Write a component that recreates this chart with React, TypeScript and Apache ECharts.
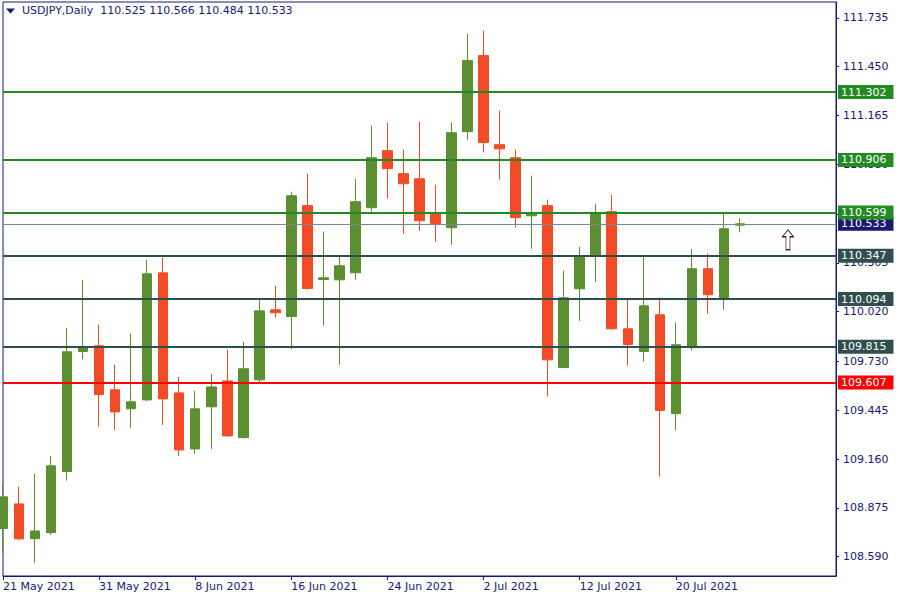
import React, { useEffect, useRef } from "react";
import * as echarts from "echarts";

const NAVY = "#191970";
const UP = "#5b8f31";
const DOWN = "#f24c27";
const FONT = "DejaVu Sans";

const dates = [
  "21 May 2021", "24 May 2021", "25 May 2021", "26 May 2021", "27 May 2021", "28 May 2021",
  "31 May 2021", "1 Jun 2021", "2 Jun 2021", "3 Jun 2021", "4 Jun 2021", "7 Jun 2021",
  "8 Jun 2021", "9 Jun 2021", "10 Jun 2021", "11 Jun 2021", "14 Jun 2021", "15 Jun 2021",
  "16 Jun 2021", "17 Jun 2021", "18 Jun 2021", "21 Jun 2021", "22 Jun 2021", "23 Jun 2021",
  "24 Jun 2021", "25 Jun 2021", "28 Jun 2021", "29 Jun 2021", "30 Jun 2021", "1 Jul 2021",
  "2 Jul 2021", "5 Jul 2021", "6 Jul 2021", "7 Jul 2021", "8 Jul 2021", "9 Jul 2021",
  "12 Jul 2021", "13 Jul 2021", "14 Jul 2021", "15 Jul 2021", "16 Jul 2021", "19 Jul 2021",
  "20 Jul 2021", "21 Jul 2021", "22 Jul 2021", "23 Jul 2021", "26 Jul 2021",
];
// empty slots to the right of the last bar (chart shift)
const futureSlots = ["", "", "", "", "", ""];

const opens = [
  108.754, 108.898, 108.695, 108.730, 109.087, 109.788, 109.821, 109.564, 109.453, 109.505,
  110.247, 109.546, 109.219, 109.465, 109.616, 109.285, 109.622, 110.031, 109.992, 110.639,
  110.208, 110.206, 110.247, 110.627, 110.960, 110.826, 110.796, 110.598, 110.510, 111.071,
  111.515, 110.995, 110.919, 110.580, 110.639, 109.694, 110.154, 110.347, 110.604, 109.920,
  109.788, 110.002, 109.425, 109.817, 110.271, 110.103, 110.525,
];
const closes = [
  108.939, 108.694, 108.740, 109.120, 109.786, 109.813, 109.536, 109.435, 109.494, 110.241,
  109.511, 109.213, 109.453, 109.581, 109.295, 109.687, 110.025, 110.014, 110.697, 110.156,
  110.218, 110.288, 110.662, 110.919, 110.855, 110.767, 110.551, 110.535, 111.065, 111.486,
  111.008, 110.971, 110.569, 110.599, 109.739, 110.101, 110.341, 110.596, 109.920, 109.828,
  110.054, 109.443, 109.827, 110.271, 110.119, 110.504, 110.533,
];
const lows = [
  108.610, 108.688, 108.555, 108.717, 109.034, 109.741, 109.350, 109.330, 109.342, 109.500,
  109.359, 109.178, 109.190, 109.219, 109.290, 109.280, 109.600, 109.986, 109.802, 110.148,
  109.939, 109.710, 110.206, 110.604, 110.680, 110.475, 110.493, 110.428, 110.411, 111.024,
  110.950, 110.791, 110.510, 110.387, 109.525, 109.690, 109.967, 110.195, 109.915, 109.706,
  109.729, 109.057, 109.326, 109.793, 110.008, 110.031, 110.484,
];
const highs = [
  109.009, 108.997, 109.073, 109.178, 109.926, 110.206, 109.944, 109.710, 109.891, 110.323,
  110.335, 109.640, 109.558, 109.657, 109.798, 109.844, 110.101, 110.171, 110.720, 110.826,
  110.487, 110.352, 110.796, 111.106, 111.123, 110.966, 111.129, 110.761, 111.123, 111.643,
  111.661, 111.194, 110.966, 110.814, 110.674, 110.259, 110.399, 110.650, 110.703, 110.090,
  110.342, 110.103, 109.957, 110.387, 110.358, 110.598, 110.566,
];

const priceTicks = [
  108.59, 108.875, 109.16, 109.445, 109.73, 110.02, 110.305, 110.59, 110.88, 111.165, 111.45, 111.735,
];
const dateTickIndexes = [0, 6, 12, 18, 24, 30, 36, 42];

const levelValues = [110.533, 111.302, 110.906, 110.599, 110.347, 110.094, 109.815, 109.607];
const levelColors = ["#778899", "#228b22", "#228b22", "#228b22", "#2f4f4f", "#2f4f4f", "#2f4f4f", "#ff0000"];
const levelLabelBg = [NAVY, "#228b22", "#228b22", "#228b22", "#2f4f4f", "#2f4f4f", "#2f4f4f", "#ff0000"];
const levelWidths = [1, 2, 2, 2, 2, 2, 2, 2];

const headerText = "USDJPY,Daily  110.525 110.566 110.484 110.533";
const arrowPoint = { index: 48.8, price: 110.44 };

export default function App() {
  const ref = useRef<HTMLDivElement>(null);

  useEffect(() => {
    if (!ref.current) return;
    const chart = echarts.init(ref.current, null, { renderer: "svg" });
    const candleData = opens.map((o, i) => [o, closes[i], lows[i], highs[i]]);

    const option = {
      animation: false,
      backgroundColor: "#ffffff",
      textStyle: { fontFamily: FONT },
      title: {
        text: headerText,
        left: 22,
        top: 5,
        padding: 0,
        textStyle: { fontSize: 11, fontWeight: "normal", color: NAVY, fontFamily: FONT },
      },
      graphic: [
        {
          type: "polygon",
          shape: { points: [[6, 8.5], [15, 8.5], [10.5, 13.5]] },
          style: { fill: NAVY },
        },
      ],
      grid: {
        left: 2,
        right: 64,
        top: 2,
        bottom: 24,
        show: true,
        borderColor: NAVY,
        borderWidth: 1,
        backgroundColor: "#ffffff",
      },
      xAxis: {
        type: "category",
        data: [...dates, ...futureSlots],
        boundaryGap: false,
        axisLine: { show: true, lineStyle: { color: NAVY, width: 1 } },
        axisTick: {
          show: true,
          length: 4,
          interval: (i: number) => dateTickIndexes.includes(i),
          lineStyle: { color: NAVY },
        },
        axisLabel: {
          interval: (i: number) => dateTickIndexes.includes(i),
          align: "left",
          color: NAVY,
          fontSize: 11,
          fontFamily: FONT,
          margin: 5,
        },
        splitLine: { show: false },
      },
      yAxis: {
        type: "value",
        position: "right",
        min: 108.477,
        max: 111.828,
        axisLine: { show: true, lineStyle: { color: NAVY, width: 1 } },
        axisTick: {
          show: true,
          length: 3,
          customValues: priceTicks,
          lineStyle: { color: NAVY },
        },
        axisLabel: {
          customValues: priceTicks,
          formatter: (v: number) => v.toFixed(3),
          color: NAVY,
          fontSize: 11,
          fontFamily: FONT,
          margin: 7,
        },
        splitLine: { show: false },
      },
      series: [
        {
          type: "candlestick",
          data: candleData,
          barWidth: 10,
          itemStyle: {
            color: UP,
            color0: DOWN,
            borderColor: UP,
            borderColor0: DOWN,
            borderColorDoji: UP,
            borderWidth: 1,
          },
          markLine: {
            silent: true,
            symbol: ["none", "none"],
            precision: 3,
            data: levelValues.map((v, i) => ({
              yAxis: v,
              lineStyle: { color: levelColors[i], width: levelWidths[i], type: "solid" },
              label: {
                show: true,
                position: "end",
                distance: 2,
                formatter: () => v.toFixed(3),
                color: "#ffffff",
                fontSize: 11,
                fontFamily: FONT,
                backgroundColor: levelLabelBg[i],
                padding: [2, 7, 1, 3],
              },
            })),
          },
          markPoint: {
            silent: true,
            data: [
              {
                coord: [arrowPoint.index, arrowPoint.price],
                symbol: "path://M5.5,0 L11,7 L7.5,7 L7.5,20 L3.5,20 L3.5,7 L0,7 Z",
                symbolSize: [11, 20],
                itemStyle: { color: "#ffffff", borderColor: "#2b2b2b", borderWidth: 1 },
                label: { show: false },
              },
            ],
          },
        },
      ],
    };

    chart.setOption(option as any);
    return () => chart.dispose();
  }, []);

  return (
    <div
      ref={ref}
      style={{ position: "fixed", left: 0, top: 0, width: 900, height: 600 }}
    />
  );
}
